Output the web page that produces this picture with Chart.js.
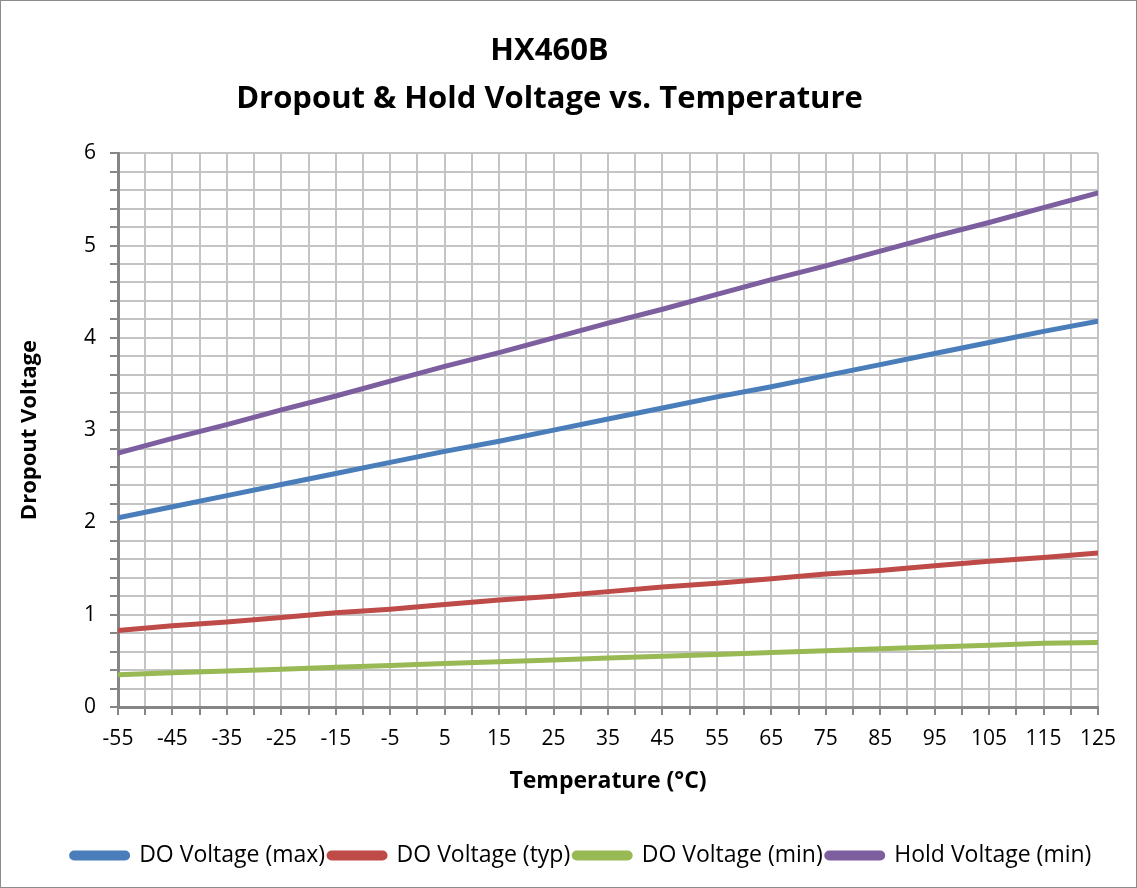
<!DOCTYPE html>
<html><head><meta charset="utf-8">
<script src="https://cdn.jsdelivr.net/npm/chart.js@4/dist/chart.umd.min.js"></script>
<style>
html,body{margin:0;padding:0;background:#fff;}
#box{position:absolute;left:0;top:0;width:1135px;height:886px;border:1px solid #8c8c8c;}
canvas{display:block;}
</style></head><body>
<div id="box"><canvas id="c" width="1135" height="886"></canvas></div>
<script>
const temps = [-55, -45, -35, -25, -15, -5, 5, 15, 25, 35, 45, 55, 65, 75, 85, 95, 105, 115, 125];
const doMax = [2.05, 2.17, 2.29, 2.41, 2.53, 2.65, 2.77, 2.88, 3.00, 3.12, 3.24, 3.36, 3.47, 3.59, 3.71, 3.83, 3.95, 4.07, 4.18];
const doTyp = [0.83, 0.88, 0.92, 0.97, 1.02, 1.06, 1.11, 1.16, 1.20, 1.25, 1.30, 1.34, 1.39, 1.44, 1.48, 1.53, 1.58, 1.62, 1.67];
const doMin = [0.35, 0.37, 0.39, 0.41, 0.43, 0.45, 0.47, 0.49, 0.51, 0.53, 0.55, 0.57, 0.59, 0.61, 0.63, 0.65, 0.67, 0.69, 0.70];
const holdMin = [2.75, 2.91, 3.06, 3.22, 3.37, 3.53, 3.69, 3.84, 4.00, 4.16, 4.31, 4.47, 4.63, 4.78, 4.94, 5.10, 5.25, 5.41, 5.57];
const seriesNames = ['DO Voltage (max)', 'DO Voltage (typ)', 'DO Voltage (min)', 'Hold Voltage (min)'];
const titleLines = ['HX460B', 'Dropout & Hold Voltage vs. Temperature'];
const xTitle = 'Temperature (\u00B0C)';
const yTitle = 'Dropout Voltage';

const colors = ['#4A7EBB', '#BE4B48', '#98B954', '#7D5FA0'];
const FONT = '"Open Sans", Lato, sans-serif';
const pts = arr => arr.map((v, i) => ({x: temps[i], y: v}));
const seriesData = [doMax, doTyp, doMin, holdMin];

const legendShift = {
  id: 'legendShift',
  afterLayout(chart) {
    const lg = chart.legend;
    if (lg) { lg.left += 32; lg.right += 32; }
  }
};

new Chart(document.getElementById('c'), {
  type: 'line',
  plugins: [legendShift],
  data: {
    datasets: seriesData.map((d, i) => ({
      label: seriesNames[i], data: pts(d), borderColor: colors[i], backgroundColor: colors[i],
      borderWidth: 5, pointRadius: 0, tension: 0, borderCapStyle: 'round'
    }))
  },
  options: {
    responsive: false, animation: false,
    layout: {padding: {left: 0, right: 38, top: 0, bottom: 10}},
    plugins: {
      title: {display: true, text: titleLines, color: '#000',
        font: {family: FONT, size: 31, weight: 'bold', lineHeight: 1.52},
        padding: {top: 27, bottom: 31}},
      legend: {position: 'bottom',
        labels: {color: '#000', font: {family: FONT, size: 23}, boxWidth: 56, boxHeight: 5, padding: 4, useBorderRadius: true, borderRadius: 2.5}},
      tooltip: {enabled: false}
    },
    scales: {
      x: {type: 'linear', min: -55, max: 125,
        afterBuildTicks: s => { s.ticks = []; for (let v = -55; v <= 125; v += 5) s.ticks.push({value: v}); },
        ticks: {autoSkip: false, maxRotation: 0, color: '#000', font: {family: FONT, size: 21}, padding: 11,
          callback: v => ((v + 55) % 10 === 0 ? String(v) : '')},
        grid: {color: '#C4C4C4', lineWidth: 2, tickLength: 8, tickColor: '#868686', tickWidth: 2},
        border: {color: '#868686', width: 3},
        title: {display: true, text: xTitle, color: '#000', font: {family: FONT, size: 23, weight: 'bold'}, padding: {top: 8, bottom: 45}},
        afterFit: s => { s.height = 133; }
      },
      y: {min: 0, max: 6,
        ticks: {stepSize: 0.2, autoSkip: false, color: '#000', font: {family: FONT, size: 21}, padding: 14,
          callback: v => (Math.abs(v - Math.round(v)) < 1e-6 ? String(Math.round(v)) : '')},
        grid: {color: '#C4C4C4', lineWidth: 2, tickLength: 8, tickColor: '#868686', tickWidth: 2},
        border: {color: '#868686', width: 3},
        title: {display: true, text: yTitle, color: '#000', font: {family: FONT, size: 22, weight: 'bold'}, padding: {top: 16, bottom: 18}},
        afterFit: s => { s.width = 117; }
      }
    }
  }
});
</script>
</body></html>
